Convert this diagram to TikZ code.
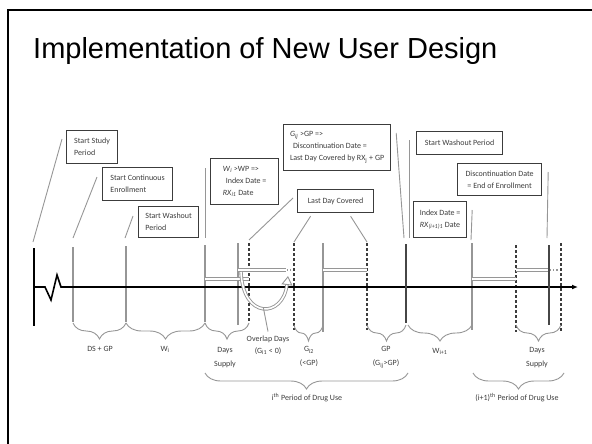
\documentclass[tikz,border=0pt]{standalone}
\usepackage{fontspec}
\setmainfont{Carlito}
\newfontfamily\headfont{Liberation Sans}
\usetikzlibrary{arrows.meta,decorations.pathreplacing}
\definecolor{inkgray}{RGB}{60,60,60}
\definecolor{rulegray}{RGB}{150,150,150}
\definecolor{bargray}{RGB}{70,70,70}

\begin{document}
\begin{tikzpicture}[
    x=1pt,y=-1pt,
    note/.style={rectangle,draw=inkgray,line width=1.2pt,anchor=north west,align=left,text=inkgray,font=\fontsize{8}{12}\selectfont,inner xsep=6pt},
    callout/.style={draw=rulegray,line width=0.9pt},
    datebar/.style={draw=rulegray,line width=1.3pt},
    endbar/.style={draw=bargray,line width=2.6pt},
    cutoff/.style={draw=inkgray,line width=1.1pt,dash pattern=on 3pt off 2pt},
    supply/.style={draw=rulegray,line width=0.9pt,double=white,double distance=1.6pt},
    trail/.style={draw=rulegray,line width=1.2pt,dotted},
    timeline/.style={draw=black,line width=1.6pt,-{Latex[length=6pt,width=5pt]}},
    period/.style={draw=rulegray,line width=0.9pt,decorate,decoration={brace,mirror,amplitude=16pt}},
    spanlabel/.style={align=center,inner sep=0pt,text=inkgray,font=\fontsize{8}{14}\selectfont}
]
% frame and heading
\useasboundingbox (0,0) rectangle (592,444);
\draw[black,line width=2.4pt] (8,450) -- (8,10) -- (600,10);
\node[anchor=base west,inner sep=0pt,font=\headfont\fontsize{29}{34}\selectfont] (title) at (33,59) {Implementation of New User Design};

% boxes above the time line
\node[note,minimum width=51pt,minimum height=33pt] (study) at (66,130) {Start Study\\Period};
\node[note,minimum width=70pt,minimum height=33pt] (enroll) at (102,167) {Start Continuous\\Enrollment};
\node[note,minimum width=60pt,minimum height=31pt] (washA) at (138,206) {Start Washout\\Period};
\node[note,minimum width=68pt,minimum height=46pt] (indexA) at (210,158) {\textit{W}\textsubscript{\textit{i}} >WP =>\\\hspace*{3pt}Index Date =\\\textit{RX}\textsubscript{\textit{i1}} Date};
\node[note,align=center,minimum width=76pt,minimum height=23pt] (lastday) at (297,189) {Last Day Covered};
\node[note,minimum width=107pt,minimum height=46pt] (discA) at (283,124) {\textit{G}\textsubscript{\textit{ij}} >GP =>\\\hspace*{3pt}Discontinuation Date =\\Last Day Covered by RX\textsubscript{j} + GP};
\node[note,minimum width=86pt,minimum height=23pt] (washB) at (416,131) {Start Washout Period};
\node[note,align=center,minimum width=84pt,minimum height=32pt] (discB) at (457,163) {Discontinuation Date\\= End of Enrollment};
\node[note,minimum width=53pt,minimum height=36pt] (indexB) at (413,201) {Index Date =\\\textit{RX}\textsubscript{\textit{(i+1)1}} Date};

% where the callouts meet the dates
\coordinate (cStudy) at (33,242);
\coordinate (cEnroll) at (73,238);
\coordinate (cWashA) at (125,238);
\coordinate (cIndexA) at (205,238);
\coordinate (cLast1) at (249,240);
\coordinate (cLast2) at (294,242);
\coordinate (cLast3) at (367,242);
\coordinate (cDiscA) at (404,238);
\coordinate (cWashB) at (409,238);
\coordinate (cIndexB) at (471,240);
\coordinate (cDiscB) at (547,238);

\draw[callout] ([shift={(-4,9)}]study.north west) -- (cStudy);
\draw[callout] ([shift={(-5,10)}]enroll.north west) -- (cEnroll);
\draw[callout] ([shift={(-5,10)}]washA.north west) -- (cWashA);
\draw[callout] ([shift={(-5,10)}]indexA.north west) -- (cIndexA);
\draw[callout] ([shift={(-4,9)}]lastday.north west) -- (cLast1);
\draw[callout] ([shift={(-25,3)}]lastday.south) -- (cLast2);
\draw[callout] ([shift={(15,3)}]lastday.south) -- (cLast3);
\draw[callout] ([shift={(5,9)}]discA.north east) -- (cDiscA);
\draw[callout] ([shift={(-7,9)}]washB.north west) -- (cWashB);
\draw[callout] ([shift={(5,9)}]indexB.north east) -- (cIndexB);
\draw[callout] ([shift={(6,9)}]discB.north east) -- (cDiscB);

% dates on the time line
\draw[black,line width=2pt] (34,248) -- (34,326);
\draw[datebar] (73,247) -- (73,322);
\draw[datebar] (126,246) -- (126,322);
\draw[datebar] (205,245) -- (205,322);
\draw[datebar] (238,243) -- (238,325);
\draw[cutoff] (249,243) -- (249,322);
\draw[cutoff] (294,243) -- (294,330);
\draw[datebar] (323,243) -- (323,332);
\draw[cutoff] (367,243) -- (367,330);
\draw[datebar] (472,243) -- (472,330);
\draw[cutoff] (516,245) -- (516,332);
\draw[cutoff] (561,243) -- (561,332);

% days supplied by each prescription
\draw[supply] (205,279) -- (249,279);
\draw[supply] (238,270) -- (286,270);
\draw[trail] (287,270) -- (293,270);
\draw[supply] (323,270) -- (367,270);
\draw[supply] (472,279) -- (516,279);
\draw[supply] (516,270) -- (549,270);
\draw[trail] (550,270) -- (558,270);

% time line
\coordinate (t0) at (34,287);
\coordinate (tend) at (578,287);
\draw[timeline] (t0) -- (45,287) -- (51,300) -- (57,275) -- (61,287) -- (tend);

\draw[endbar] (406,244) -- (406,323);
\draw[endbar] (549,245) -- (549,325);

% overlap carried forward
\draw[supply,-{Triangle[open,length=9pt,width=11pt,line width=0.9pt]}] (241,272) .. controls (243,320) and (283,318) .. (288,276) coordinate[pos=0.5] (dip);

% braces and their labels
\draw[period] (73,323) -- (126,323);
\draw[period] (126,323) -- (205,323);
\draw[period] (205,323) -- (249,323);
\draw[period] (294,325) -- (323,325);
\draw[period] (367,325) -- (406,325);
\draw[period] (408,325) -- (472,325);
\draw[period] (516,325) -- (561,325);
\draw[period] (205,373) -- (408,373);
\draw[period] (473,373) -- (564,373);

\node[spanlabel,anchor=base] (dsgp) at (100,351) {DS + GP};
\node[spanlabel,anchor=base] (washi) at (165,351) {W\textsubscript{i}};
\node[spanlabel,anchor=north] (supplyA) at (225,347.5) {Days\\Supply};
\node[spanlabel,anchor=north,font=\fontsize{8}{12}\selectfont] (overlap) at (268,335.5) {Overlap Days\\(G\textsubscript{i1} < 0)};
\node[spanlabel,anchor=north] (gapA) at (309,346.5) {G\textsubscript{i2}\\(<GP)};
\node[spanlabel,anchor=north] (gapB) at (386,346.5) {GP\\(G\textsubscript{ij}>GP)};
\node[spanlabel,anchor=base] (washnext) at (440,353) {W\textsubscript{i+1}};
\node[spanlabel,anchor=north] (supplyB) at (537,347.5) {Days\\Supply};
\node[spanlabel,anchor=base] (useA) at (307,400) {i\textsuperscript{th} Period of Drug Use};
\node[spanlabel,anchor=base] (useB) at (517,400) {(i+1)\textsuperscript{th} Period of Drug Use};

\draw[callout] (dip) -- ([shift={(0,-4)}]overlap.north);
\end{tikzpicture}
\end{document}
